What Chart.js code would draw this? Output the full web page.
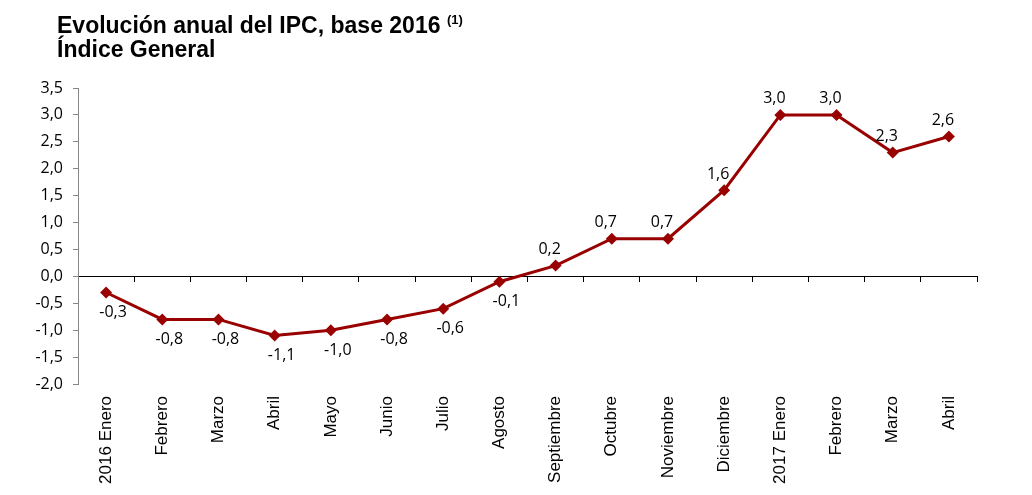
<!DOCTYPE html>
<html>
<head>
<meta charset="utf-8">
<script src="https://cdn.jsdelivr.net/npm/chart.js@4/dist/chart.umd.min.js"></script>
<style>
  body { margin: 0; background: #fff; }
  #wrap { position: relative; width: 1032px; height: 495px; }
  #title {
    position: absolute; left: 57px; top: 8px;
    font: bold 23px "Liberation Sans", Arial, sans-serif;
    line-height: 24px; color: #000;
  }
  #title sup { font-size: 13px; vertical-align: 9px; }
  canvas { position: absolute; left: 0; top: 0; }
</style>
</head>
<body>
<div id="wrap">
  <canvas id="ipcChart" width="1032" height="495"></canvas>
  <div id="title">Evolución anual del IPC, base 2016 <sup>(1)</sup><br>Índice General</div>
</div>
<script>
// Chart data
const months = ['2016 Enero', 'Febrero', 'Marzo', 'Abril', 'Mayo', 'Junio', 'Julio', 'Agosto',
  'Septiembre', 'Octubre', 'Noviembre', 'Diciembre', '2017 Enero', 'Febrero', 'Marzo', 'Abril'];
const ipcValues = [-0.3, -0.8, -0.8, -1.1, -1.0, -0.8, -0.6, -0.1, 0.2, 0.7, 0.7, 1.6, 3.0, 3.0, 2.3, 2.6];
const yMin = -2.0;
const yMax = 3.5;
const yStep = 0.5;

const lineColor = '#990000';
const numFont = '"Open Sans", sans-serif';

function fmt(v) {
  return v.toFixed(1).replace('.', ',');
}

// Draws the value next to each point (below for negatives, above otherwise)
const valueLabels = {
  id: 'valueLabels',
  afterDatasetsDraw(chart) {
    const ctx = chart.ctx;
    const meta = chart.getDatasetMeta(0);
    ctx.save();
    ctx.font = '16px ' + numFont;
    ctx.fillStyle = '#000';
    ctx.textAlign = 'center';
    ctx.textBaseline = 'middle';
    meta.data.forEach((pt, i) => {
      const v = ipcValues[i];
      const dx = v < 0 ? 7 : -6;
      const dy = v < 0 ? 20 : -16;
      ctx.fillText(fmt(v), pt.x + dx, pt.y + dy);
    });
    ctx.restore();
  }
};

const ctx = document.getElementById('ipcChart').getContext('2d');
new Chart(ctx, {
  type: 'line',
  data: {
    labels: months,
    datasets: [{
      data: ipcValues,
      xAxisID: 'x',
      yAxisID: 'y',
      borderColor: lineColor,
      backgroundColor: lineColor,
      borderWidth: 3,
      pointStyle: 'rectRot',
      pointRadius: 6,
      pointBackgroundColor: lineColor,
      pointBorderColor: lineColor,
      pointBorderWidth: 0,
      tension: 0,
      fill: false
    }]
  },
  options: {
    responsive: false,
    animation: false,
    layout: { padding: { top: 88, right: 55, left: 0, bottom: 0 } },
    plugins: {
      legend: { display: false },
      tooltip: { enabled: false }
    },
    scales: {
      x: {
        type: 'category',
        position: 'bottom',
        offset: true,
        grid: { display: false },
        border: { display: false },
        ticks: {
          minRotation: 90,
          maxRotation: 90,
          padding: 4,
          color: '#000',
          font: { family: '"Liberation Sans", Arial, sans-serif', size: 17 }
        },
        afterFit(scale) { scale.height = 111; }
      },
      x0: {
        type: 'category',
        position: { y: 0 },
        offset: true,
        grid: {
          display: true,
          offset: true,
          drawOnChartArea: false,
          drawTicks: true,
          tickLength: 5,
          color: '#000'
        },
        border: { display: true, color: '#000', width: 1 },
        ticks: { display: false }
      },
      y: {
        min: yMin,
        max: yMax,
        ticks: {
          stepSize: yStep,
          padding: 10,
          color: '#000',
          font: { family: numFont, size: 16 },
          callback: (v) => fmt(v)
        },
        grid: {
          drawOnChartArea: false,
          drawTicks: true,
          tickLength: 5,
          color: '#868686'
        },
        border: { display: true, color: '#868686', width: 1 },
        afterFit(scale) { scale.width = 78; }
      }
    }
  },
  plugins: [valueLabels]
});
</script>
</body>
</html>
